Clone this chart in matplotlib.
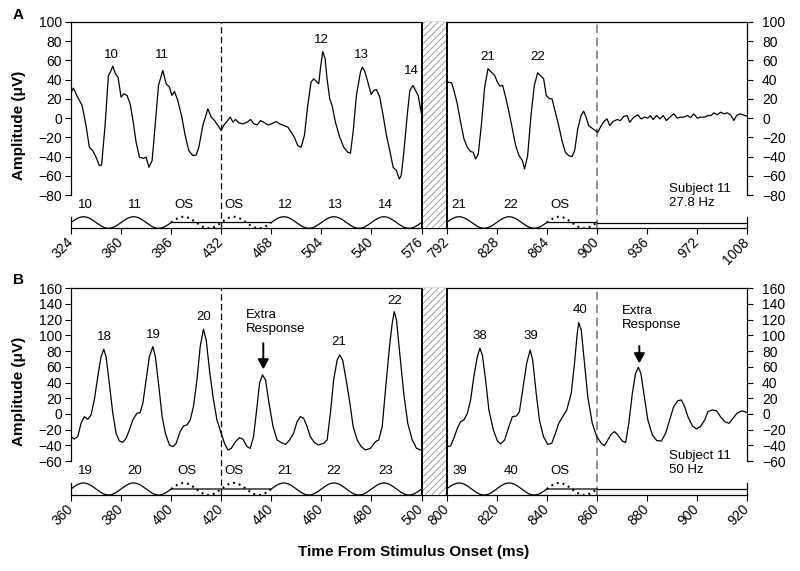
import numpy as np
import matplotlib
matplotlib.use("Agg")
import matplotlib.pyplot as plt
from matplotlib.ticker import NullLocator
from matplotlib.patches import ArrowStyle
from matplotlib.transforms import ScaledTranslation

plt.rcParams['font.family'] = ['Liberation Sans', 'DejaVu Sans']
plt.rcParams['hatch.linewidth'] = 0.6
plt.rcParams['hatch.color'] = '#909090'

# ---------------- DATA ----------------
# Panel A (27.8 Hz) recorded response, left segment (324-576 ms) and right segment (792-1008 ms)
a_left_t = [324, 325.7, 328.8, 332, 334.8, 337.2, 339.6, 342, 344.4, 346, 348.5, 350.9, 352.3, 354, 355.9,
            357.8, 360, 361.9, 364.3, 366.5, 368.4, 370.8, 373.2, 376.1, 378, 380, 382.3, 384.5, 386.9, 390,
            392.4, 394.8, 396.5, 398.4, 400.8, 403.7, 406.1, 408.7, 411.6, 414, 415.9, 418.8, 422.4, 424.8,
            427.2, 429.6, 432, 433.7, 436.1, 438.5, 440.4, 442.3, 444.7, 447.6, 450.7, 453.1, 455.5, 457.9,
            460.3, 463.2, 465.6, 468, 471.6, 474, 476.9, 480, 484.6, 487, 489.4, 491.8, 494.2, 496.6, 498.5,
            500.4, 502.1, 503.3, 505, 506.7, 508.1, 510, 511.7, 514.1, 517.2, 520.1, 523, 524.9, 526.8, 529.2,
            532.1, 533.5, 535, 537.4, 539.8, 541.7, 543.6, 546, 548.4, 550.8, 553.2, 555.6, 558, 560, 561.4,
            563.3, 565.7, 567.6, 569.8, 571.7, 573.6, 575.3, 576]
a_left_v = [27, 31.2, 21.8, 13.1, -7.8, -30.3, -33.8, -40.7, -49.4, -48.7, -7.6, 44.4, 47.9, 54.1, 46.1,
            42.7, 21.8, 25.3, 23.6, 14.9, -0.8, -25.1, -40.7, -41.8, -40.7, -51.1, -44.2, -7.6, 34.0, 49.6,
            35.7, 32.2, 23.6, 27.7, 18.3, 1.0, -18.1, -33.8, -39.0, -38.3, -30.3, -7.6, 9.7, 1.0,
            -2.5, -7.6, -12.9, -7.6, -3.5, 1.0, -4.2, -1.4, -4.9, -6.0, -4.2, -1.4, -6.0, -7.0,
            -2.5, -4.9, -7.0, -6.0, -3.5, -6.0, -7.6, -9.5, -19.9, -28.6, -30.3, -18.1, 13.1, 37.5, 40.9,
            38.1, 35.7, 51.4, 69.4, 61.8, 40.9, 20.1, 13.1, -4.2, -19.9, -30.3, -35.5, -36.6, -14.7, 23.6,
            47.9, 53.1, 49.6, 37.5, 24.6, 28.8, 29.8, 21.8, 2.7, -18.1, -33.8, -51.2, -54.6, -63.3, -59.8,
            -35.5, 2.7, 28.8, 34.0, 28.8, 23.6, 9.7, 4.4]
a_right_t = [792, 795.6, 797.3, 799.7, 802.1, 804.5, 806.9, 809.3, 811.2, 812.9, 814.8, 817, 819.4, 821.8,
             824.2, 826.6, 828.5, 830.4, 832.3, 834.5, 836.9, 839.3, 841.7, 844.1, 846.5, 848.1, 850.3, 852.7,
             855.1, 857.5, 859.4, 861.8, 863.7, 866.1, 867.8, 870.2, 872.6, 875.0, 877.4, 879.8, 882.2, 884.1,
             886.3, 888.7, 890.6, 892.3, 894.2, 896.6, 899.0, 900.7, 902.6, 905.0, 907.4, 909.3, 911.7, 914.6,
             917.0, 919.4, 921.8, 923.7, 926.6, 929.5, 931.9, 934.3, 936.7, 938.6, 940.5, 942.9, 945.3, 947.7,
             950.1, 952.5, 955.4, 957.8, 960.2, 962.6, 965.0, 967.4, 969.8, 972.2, 974.6, 977.5, 979.9, 982.3,
             984.2, 986.6, 989.0, 991.4, 993.8, 996.2, 998.6, 1000.5, 1002.9, 1005.3, 1008]
a_right_v = [37.5, 36.8, 28.8, 14.9, -4.2, -21.6, -30.3, -34.8, -35.5, -42.5, -37.3, -7.7, 32.2, 51.4,
             47.9, 44.4, 37.5, 33.3, 34.0, 21.8, 6.2, -11.2, -28.6, -39.0, -44.2, -52.9, -39.0, 2.7,
             34.0, 47.2, 44.4, 40.9, 23.6, 20.1, 20.1, 6.2, -7.7, -23.4, -35.5, -39.0, -40.0, -33.8,
             -11.2, 2.7, 7.2, 1.0, -7.7, -10.5, -12.9, -14.7, -9.5, -3.6, -0.8, -7.7, -3.6, -1.5,
             -2.5, 1.7, 2.7, -4.3, 1.0, 3.4, -0.8, 1.0, 0, 2.7, -1.5, 2.7, -0.8, 2.7,
             -2.5, 1.0, 4.4, 0, 1.0, 1.0, 2.7, 0.6, 4.4, 0, 1.0, 1.0, 2.7, 2.7,
             5.5, 3.4, 6.2, 4.4, 5.5, 3.4, -2.5, 2.7, 4.4, 3.4, 2.0]

# Panel B (50 Hz)
b_left_t = [360, 361.3, 362.7, 364, 365.3, 366.7, 368, 369.3, 370.7, 372, 373.1, 374, 375.3, 376.7, 378,
            379.3, 380.7, 382, 383.3, 384.7, 386.3, 387.6, 388.7, 390, 391.3, 392.7, 393.7, 395.1, 396.4,
            397.7, 399.3, 400.7, 402, 403.6, 404.9, 406.3, 407.6, 408.9, 410.3, 411.6, 412.9, 414, 415.3,
            416.7, 418.3, 420, 421.3, 422.7, 424, 425.7, 427.3, 428.7, 430.3, 431.6, 432.9, 434.3, 435.3,
            436.5, 437.7, 439.1, 440.7, 442.3, 444, 445.7, 447.3, 448.9, 450.3, 451.6, 452.9, 454.3, 455.6,
            457.2, 458.9, 460.9, 462.3, 463.6, 464.9, 466.3, 467.3, 468.5, 469.9, 471.2, 472.7, 474.3, 475.9,
            477.6, 479.6, 481.6, 482.9, 484.3, 485.6, 487.2, 488.3, 489.1, 490, 491.3, 492.9, 494.5, 496.3,
            498, 499.6, 500]
b_left_v = [-29.0, -32.0, -29.0, -12.0, -3.5, -6.9, -1.4, 17.7, 47.5, 72.9, 82.3, 72.9, 39.0, 0.8, -24.7,
            -34.5, -36.2, -31.1, -20.5, -7.8, 0.7, 1.6, 13.5, 43.2, 72.9, 85.7, 72.9, 34.7, -3.5,
            -24.7, -39.6, -41.7, -37.5, -22.6, -15.4, -14.1, -7.8, 9.2, 43.2, 85.7, 107.8, 94.2, 56.0,
            22.0, -7.8, -24.7, -37.5, -46.0, -43.9, -35.4, -30.3, -32.4, -41.7, -43.9, -29.0, 9.2, 39.0,
            49.6, 43.2, 13.5, -16.2, -33.2, -36.6, -38.8, -33.2, -24.7, -9.9, -3.5, -5.6, -16.2, -29.0,
            -36.6, -39.6, -37.5, -33.2, 0.7, 43.2, 68.7, 75.1, 68.7, 43.2, 17.7, -16.2, -33.2, -41.7,
            -46.0, -43.9, -35.4, -33.2, -16.2, 30.5, 85.7, 115.4, 130.3, 119.7, 77.2, 26.2, -12.0, -33.2,
            -43.9, -46.0, -45.5]
b_right_t = [800, 801.6, 802.9, 804.3, 805.6, 806.9, 808.3, 809.6, 810.9, 812.3, 813.3, 814.3, 815.6, 816.9,
             818.7, 820.3, 821.6, 823.2, 824.9, 826.3, 827.9, 829.1, 830.4, 832, 833.4, 834.4, 835.8, 837.1,
             838.7, 840.4, 842, 843.5, 844.8, 846.4, 848, 849.8, 851.1, 852.2, 852.8, 853.8, 855.1, 856.4,
             858.2, 860, 861.8, 863.1, 864.4, 865.8, 867.1, 868.4, 870.2, 871.5, 872.8, 874.2, 875.5, 876.6,
             877.6, 879, 880.4, 882.2, 884.0, 885.8, 887.5, 889.1, 890.7, 892.4, 893.8, 895.1, 896.4, 898.2,
             899.8, 901.4, 903.1, 904.4, 906.2, 907.8, 909.4, 911.1, 912.8, 914.4, 916, 917.8, 919.1, 920]
b_right_v = [-41.7, -40.9, -31.1, -18.4, -9.9, -7.8, 0.7, 17.7, 47.5, 72.9, 83.6, 75.1, 43.2, 5.0,
             -20.5, -34.5, -38.3, -33.2, -16.2, -3.5, -2.7, 2.9, 30.5, 64.4, 81.4, 68.7, 26.2, -7.8,
             -29.0, -38.8, -37.5, -24.7, -12.0, -3.5, 5.0, 26.2, 64.4, 102.7, 116.3, 106.9, 64.4, 22.0,
             -12.0, -29.0, -37.5, -40.5, -33.2, -25.6, -22.6, -26.8, -34.5, -36.6, -12.0, 26.2, 51.7, 59.3,
             51.7, 22.0, -7.8, -26.8, -34.1, -34.5, -24.7, -7.8, 9.2, 16.9, 17.7, 9.2, -3.5, -15.4,
             -19.2, -16.2, -7.8, 2.9, 5.0, 4.1, -3.5, -9.9, -12.0, -5.6, 0.8, 3.7, 2.9, 1.6]

# Tick values
a_xticks = [324, 360, 396, 432, 468, 504, 540, 576, 792, 828, 864, 900, 936, 972, 1008]
b_xticks = [360, 380, 400, 420, 440, 460, 480, 500, 800, 820, 840, 860, 880, 900, 920]
a_yticks = list(range(-80, 101, 20))
b_yticks = list(range(-60, 161, 20))

# Peak labels (text, time, amplitude)
a_peak_labels = [("10", 353.3, 65.7), ("11", 389.4, 65.7), ("12", 504.2, 81.3), ("13", 533.0, 65.7),
                 ("14", 568.4, 48.7), ("21", 821.3, 63.9), ("22", 857.2, 63.9)]
b_peak_labels = [("18", 373.3, 97.7), ("19", 393.0, 100.9), ("20", 413.0, 123.8), ("21", 467.1, 91.2),
                 ("22", 489.1, 143.8), ("38", 813.4, 99.2), ("39", 833.5, 99.2), ("40", 853.2, 132.0)]
# Stimulus labels
a_stim_labels = [("10", 334.4), ("11", 370.0), ("OS", 405.2), ("OS", 440.9), ("12", 478.2), ("13", 513.8),
                 ("14", 550.1), ("21", 800.9), ("22", 838.2), ("OS", 873.4)]
b_stim_labels = [("19", 365.8), ("20", 385.6), ("OS", 406.2), ("OS", 425.1), ("21", 445.5), ("22", 464.8),
                 ("23", 485.6), ("39", 805.5), ("40", 825.6), ("OS", 845.2)]

# Stimulus schedule
a_stim = dict(t0=324, period=36, segs=[(324, 576), (792, 900)], os=[(396, 468), (864, 900)],
              flat=(900, 1008), base=-114.6, amp=12.0)
b_stim = dict(t0=360, period=20, segs=[(360, 500), (800, 860)], os=[(400, 440), (840, 860)],
              flat=(860, 920), base=-103.3, amp=15.3)


# ---------------- HELPERS ----------------
def make_scale(b0, b1, gap):
    def fwd(x):
        x = np.asarray(x, dtype=float)
        return np.where(x <= b0, x,
                        np.where(x >= b1, x - b1 + b0 + gap, b0 + (x - b0) * gap / (b1 - b0)))

    def inv(y):
        y = np.asarray(y, dtype=float)
        return np.where(y <= b0, y,
                        np.where(y >= b0 + gap, y - b0 - gap + b1, b0 + (y - b0) * (b1 - b0) / gap))
    return fwd, inv


def setup(ax, b0, b1, gap, xlim, ylim, xticks, yticks):
    fwd, inv = make_scale(b0, b1, gap)
    ax.set_xscale('function', functions=(fwd, inv))
    ax.set_xlim(*xlim)
    ax.set_ylim(*ylim)
    ax.set_xticks(xticks)
    ax.set_xticklabels([str(t) for t in xticks], rotation=45, ha='right', va='center',
                       rotation_mode='anchor')
    ax.xaxis.set_minor_locator(NullLocator())
    ax.set_yticks(yticks)
    ax.yaxis.set_minor_locator(NullLocator())
    ax.tick_params(axis='y', left=True, right=True, labelleft=True, labelright=True,
                   direction='out', length=4.5, width=0.8, pad=2, labelsize=10)
    ax.tick_params(axis='x', direction='out', length=4.5, width=0.8, pad=4, labelsize=10)
    for s in ax.spines.values():
        s.set_linewidth(0.9)
    ax.spines['left'].set_bounds(yticks[0], yticks[-1])
    ax.spines['right'].set_bounds(yticks[0], yticks[-1])
    # hatched break box
    ax.axvspan(b0, b1, facecolor='white', edgecolor='#909090', hatch='/////', lw=0, zorder=3)
    ax.axvline(b0, color='k', lw=1.4, zorder=4)
    ax.axvline(b1, color='k', lw=1.4, zorder=4)


def draw_stim(ax, st, xlim):
    base, amp, t0, per = st['base'], st['amp'], st['t0'], st['period']
    for a, b in st['segs']:
        t = np.linspace(a, b, 600)
        s = 0.5 * (1 + np.sin(2 * np.pi * (t - t0) / per))
        solid = s.copy()
        for oa, ob in st['os']:
            solid[(t >= oa) & (t <= ob)] = 0.5
        ax.plot(t, base + amp * solid, color='k', lw=0.9, zorder=2)
    for oa, ob in st['os']:
        t = np.linspace(oa, ob, 300)
        s = 0.5 * (1 + np.sin(2 * np.pi * (t - t0) / per))
        ax.plot(t, base + amp * s, color='k', lw=1.5, ls=(0, (0.9, 1.9)), zorder=2)
    fa, fb = st['flat']
    ax.plot([fa, fb], [base + amp * 0.5] * 2, color='k', lw=0.9, zorder=2)
    for x in xlim:
        ax.plot([x, x], [base, base + amp], color='k', lw=0.9, zorder=2, clip_on=False)


# ---------------- FIGURE ----------------
fig = plt.figure(figsize=(8, 5.71), dpi=100)
axA = fig.add_axes([0.08875, 0.6002, 0.845, 0.3613])
axB = fig.add_axes([0.08875, 0.1331, 0.845, 0.3620])

setup(axA, 576, 792, 18, (324, 1008), (-114.6, 100), a_xticks, a_yticks)
setup(axB, 500, 800, 10, (360, 920), (-103.3, 160), b_xticks, b_yticks)

for ax, xs, ys in [(axA, a_left_t, a_left_v), (axA, a_right_t, a_right_v),
                   (axB, b_left_t, b_left_v), (axB, b_right_t, b_right_v)]:
    ax.plot(xs, ys, color='k', lw=0.9, zorder=2)

draw_stim(axA, a_stim, (324, 1008))
draw_stim(axB, b_stim, (360, 920))

# dashed markers
axA.axvline(432, color='k', lw=0.9, ls=(0, (5, 2.8)), zorder=1)
axA.axvline(900, color='#7a7a7a', lw=1.2, ls=(0, (5, 2.8)), zorder=1)
axB.axvline(420, color='k', lw=0.9, ls=(0, (5, 2.8)), zorder=1)
axB.axvline(860, color='#7a7a7a', lw=1.2, ls=(0, (5, 2.8)), zorder=1)

# labels
for lab, t, v in a_peak_labels:
    axA.text(t, v, lab, ha='center', va='center', fontsize=9.5)
for lab, t in a_stim_labels:
    axA.text(t, -90.1, lab, ha='center', va='center', fontsize=9.5)
for lab, t, v in b_peak_labels:
    axB.text(t, v, lab, ha='center', va='center', fontsize=9.5)
for lab, t in b_stim_labels:
    axB.text(t, -72.1, lab, ha='center', va='center', fontsize=9.5)

axA.text(951.6, -81.1, "Subject 11\n27.8 Hz", ha='left', va='center', fontsize=9.5, linespacing=1.15)
axB.text(888.8, -62.5, "Subject 11\n50 Hz", ha='left', va='center', fontsize=9.5, linespacing=1.15)

axB.text(429.9, 117.1, "Extra\nResponse", ha='left', va='center', fontsize=9.5, linespacing=1.15)
axB.text(870.2, 122.2, "Extra\nResponse", ha='left', va='center', fontsize=9.5, linespacing=1.15)
astyle = ArrowStyle('-|>', head_length=0.45, head_width=0.25)
for t, y0, y1 in [(436.8, 90.0, 56.8), (877.0, 86.5, 64.5)]:
    axB.annotate('', xy=(t, y1), xytext=(t, y0),
                 arrowprops=dict(arrowstyle=astyle, color='k', lw=1.4, mutation_scale=13,
                                 shrinkA=0, shrinkB=0))

for ax in (axA, axB):
    ax.set_ylabel("Amplitude (\u03bcV)", fontsize=11, fontweight='bold')
    ax.yaxis.set_label_coords(-0.067, 0.5)
    # push right-hand tick labels a little further from the axis
    shift = ScaledTranslation(0.06, 0, fig.dpi_scale_trans)
    for tk in ax.yaxis.get_major_ticks():
        tk.label2.set_transform(tk.label2.get_transform() + shift)

fig.text(0.0225, 0.9737, "A", fontsize=11, fontweight='bold', ha='center', va='center')
fig.text(0.0225, 0.5096, "B", fontsize=11, fontweight='bold', ha='center', va='center')
fig.text(0.517, 0.0338, "Time From Stimulus Onset (ms)", fontsize=11, fontweight='bold',
         ha='center', va='center')

fig.savefig("out.png", dpi=100)
